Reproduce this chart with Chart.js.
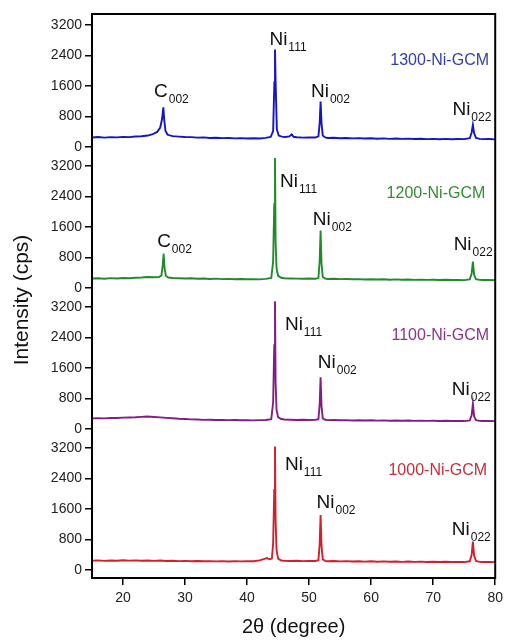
<!DOCTYPE html>
<html>
<head>
<meta charset="utf-8">
<script src="https://cdn.jsdelivr.net/npm/chart.js@4.4.0/dist/chart.umd.min.js"></script>
<style>
  body { margin: 0; background: #fff; }
  canvas { display: block; }
</style>
</head>
<body>
<canvas id="xrd" width="508" height="640"></canvas>
<script>
// XRD patterns, [2theta, cps]
const pattern1300 = [[15,250],[16,262],[17,246],[18,258],[19,252],[20,266],[21,258],[22,274],[23,282],[24,300],[24.8,335],[25.5,395],[26.0,510],[26.3,740],[26.5,1040],[26.65,700],[26.85,420],[27.2,320],[28,285],[29,272],[30,262],[31,258],[32,247],[33,252],[34,238],[35,244],[36,232],[37,236],[38,226],[39,232],[40,222],[41,228],[42,224],[43,238],[43.8,262],[44.2,420],[44.4,1700],[44.5,2560],[44.6,1700],[44.8,460],[45.1,300],[45.6,272],[46.2,262],[46.8,278],[47.2,330],[47.5,268],[48,256],[49,246],[50,252],[51,248],[51.5,280],[51.7,620],[51.85,1190],[52.0,620],[52.2,300],[52.6,252],[53,238],[54,242],[55,230],[56,236],[57,226],[58,232],[59,222],[60,228],[61,218],[62,226],[63,214],[64,222],[65,212],[66,220],[67,208],[68,216],[69,206],[70,214],[71,204],[72,212],[73,202],[74,210],[75,206],[75.9,230],[76.2,380],[76.4,580],[76.6,360],[76.9,240],[77.5,214],[78,206],[79,210],[80,200]];
const pattern1200 = [[15,248],[16,256],[17,244],[18,258],[19,250],[20,262],[21,256],[22,270],[23,276],[24,288],[25,282],[25.8,290],[26.2,330],[26.4,600],[26.55,900],[26.7,520],[26.9,320],[27.3,275],[28,262],[29,256],[30,250],[31,256],[32,244],[33,250],[34,238],[35,246],[36,234],[37,240],[38,230],[39,236],[40,228],[41,234],[42,226],[43,240],[43.9,262],[44.2,700],[44.38,2200],[44.5,3410],[44.6,1200],[44.75,520],[45.0,320],[45.5,268],[46,256],[47,250],[48,246],[49,242],[50,248],[51,242],[51.5,260],[51.7,700],[51.85,1510],[52.0,650],[52.2,290],[52.6,248],[53,236],[54,242],[55,232],[56,238],[57,228],[58,234],[59,224],[60,230],[61,222],[62,228],[63,218],[64,226],[65,216],[66,224],[67,214],[68,220],[69,212],[70,218],[71,210],[72,216],[73,208],[74,214],[75,206],[75.9,226],[76.2,380],[76.4,690],[76.6,340],[76.9,232],[77.5,214],[78,208],[79,214],[80,205]];
const pattern1100 = [[15,278],[16,284],[17,280],[18,290],[19,288],[20,298],[21,302],[22,308],[23,318],[23.8,326],[24.5,320],[25,314],[26,304],[27,292],[28,282],[29,270],[30,262],[31,252],[32,248],[33,240],[34,244],[35,236],[36,240],[37,232],[38,236],[39,228],[40,234],[41,226],[42,232],[43,238],[43.9,258],[44.2,700],[44.38,2200],[44.5,3350],[44.6,1200],[44.75,500],[45.0,310],[45.5,262],[46,250],[47,244],[48,238],[49,242],[50,236],[51,240],[51.5,258],[51.7,640],[51.85,1360],[52.0,600],[52.2,280],[52.6,242],[53,232],[54,238],[55,228],[56,234],[57,224],[58,230],[59,222],[60,228],[61,220],[62,226],[63,218],[64,224],[65,216],[66,222],[67,214],[68,220],[69,212],[70,218],[71,210],[72,216],[73,210],[74,214],[75,208],[75.9,226],[76.2,360],[76.4,660],[76.6,330],[76.9,230],[77.5,214],[78,210],[79,214],[80,206]];
const pattern1000 = [[15,246],[16,252],[17,240],[18,250],[19,244],[20,254],[21,246],[22,252],[23,244],[24,250],[25,240],[26,248],[27,238],[28,244],[29,234],[30,240],[31,230],[32,236],[33,228],[34,234],[35,226],[36,232],[37,224],[38,230],[39,226],[40,232],[41,230],[42,252],[42.8,290],[43.2,312],[43.6,280],[44.0,300],[44.2,700],[44.38,2100],[44.5,3240],[44.6,1300],[44.75,520],[45.0,300],[45.5,250],[46,240],[47,236],[48,242],[49,234],[50,240],[51,236],[51.5,256],[51.7,680],[51.85,1445],[52.0,640],[52.2,280],[52.6,240],[53,230],[54,236],[55,226],[56,232],[57,224],[58,230],[59,220],[60,228],[61,218],[62,226],[63,216],[64,224],[65,214],[66,222],[67,212],[68,220],[69,210],[70,218],[71,210],[72,216],[73,208],[74,214],[75,208],[75.9,228],[76.2,400],[76.4,745],[76.6,380],[76.9,236],[77.5,214],[78,208],[79,214],[80,206]];

const sampleNames = ['1300-Ni-GCM', '1200-Ni-GCM', '1100-Ni-GCM', '1000-Ni-GCM'];
const yTickValues = [0, 800, 1600, 2400, 3200];
const xTickValues = [20, 30, 40, 50, 60, 70, 80];

// peak labels: [axis, text, subscript, 2theta, cps]
const peakLabels = [
  ['y1300', 'C', '002', 25.0, 1310],
  ['y1300', 'Ni', '111', 43.6, 2680],
  ['y1300', 'Ni', '002', 50.3, 1310],
  ['y1300', 'Ni', '022', 73.1, 840],
  ['y1200', 'C', '002', 25.5, 1080],
  ['y1200', 'Ni', '111', 45.3, 2660],
  ['y1200', 'Ni', '002', 50.6, 1660],
  ['y1200', 'Ni', '022', 73.3, 1000],
  ['y1100', 'Ni', '111', 46.1, 2600],
  ['y1100', 'Ni', '002', 51.4, 1600],
  ['y1100', 'Ni', '022', 73.0, 890],
  ['y1000', 'Ni', '111', 46.1, 2620],
  ['y1000', 'Ni', '002', 51.2, 1630],
  ['y1000', 'Ni', '022', 73.0, 920],
];
// sample name position (right edge): [2theta, cps]
const namePos = [[79.0, 2150], [78.4, 2370], [79.0, 2340], [78.7, 2490]];

const lineColors = ['rgb(20,20,200)', 'rgb(30,140,40)', 'rgb(130,30,130)', 'rgb(210,30,45)'];
const nameColors = ['rgb(50,60,175)', 'rgb(50,140,50)', 'rgb(140,50,140)', 'rgb(200,45,55)'];
const axisIds = ['y1300', 'y1200', 'y1100', 'y1000'];
const patterns = [pattern1300, pattern1200, pattern1100, pattern1000];

const FONT = "'Liberation Sans', Arial, sans-serif";

const yAxis = (id) => ({
  type: 'linear',
  position: 'left',
  stack: 'panels',
  stackWeight: 1,
  min: -210,
  max: 3490,
  afterBuildTicks: (scale) => { scale.ticks = yTickValues.map(v => ({ value: v })); },
  afterFit: (scale) => { scale.width = 92; },
  grid: { drawOnChartArea: false, drawTicks: true, tickLength: 7, color: '#000', lineWidth: 1.5 },
  border: { display: true, color: '#000', width: 2 },
  ticks: {
    color: '#222', font: { family: FONT, size: 14 }, padding: 3, autoSkip: false,
    callback: (v) => String(v),
  },
});

const scales = {
  x: {
    type: 'linear',
    min: 15,
    max: 80,
    afterBuildTicks: (scale) => { scale.ticks = xTickValues.map(v => ({ value: v })); },
    afterFit: (scale) => { scale.height = 62; },
    grid: { drawOnChartArea: false, tickLength: 7, color: '#000', lineWidth: 1.5 },
    border: { display: true, color: '#000', width: 2 },
    ticks: { color: '#222', font: { family: FONT, size: 14 }, padding: 5, autoSkip: false, callback: (v) => String(v) },
    title: { display: true, text: '2θ (degree)', color: '#111', font: { family: FONT, size: 20 }, padding: { top: 0, bottom: 1 } },
  },
};
// stacked from bottom up
for (let i = axisIds.length - 1; i >= 0; i--) scales[axisIds[i]] = yAxis(axisIds[i]);

const frameAndLabels = {
  id: 'frameAndLabels',
  afterDraw(chart) {
    const ctx = chart.ctx;
    const a = chart.chartArea;
    const xs = chart.scales.x;
    ctx.save();
    ctx.strokeStyle = '#000';
    ctx.lineWidth = 2;
    ctx.strokeRect(a.left, a.top, a.right - a.left, a.bottom - a.top);

    ctx.fillStyle = '#111';
    ctx.textBaseline = 'alphabetic';
    ctx.textAlign = 'left';
    peakLabels.forEach(([axis, txt, sub, t, c]) => {
      const px = xs.getPixelForValue(t);
      const py = chart.scales[axis].getPixelForValue(c);
      ctx.font = '19px ' + FONT;
      ctx.fillText(txt, px, py);
      const w = ctx.measureText(txt).width;
      ctx.font = '12px ' + FONT;
      ctx.fillText(sub, px + w + 1, py + 6);
    });

    ctx.textAlign = 'right';
    ctx.font = '16px ' + FONT;
    sampleNames.forEach((name, i) => {
      ctx.fillStyle = nameColors[i];
      ctx.fillText(name, xs.getPixelForValue(namePos[i][0]), chart.scales[axisIds[i]].getPixelForValue(namePos[i][1]));
    });

    // y title
    ctx.fillStyle = '#111';
    ctx.font = '21px ' + FONT;
    ctx.textAlign = 'center';
    ctx.textBaseline = 'middle';
    ctx.translate(22, (a.top + a.bottom) / 2 + 4);
    ctx.rotate(-Math.PI / 2);
    ctx.fillText('Intensity (cps)', 0, 0);
    ctx.restore();
  }
};

new Chart(document.getElementById('xrd'), {
  type: 'line',
  data: {
    datasets: patterns.map((p, i) => ({
      label: sampleNames[i],
      data: p.map(([t, c]) => ({ x: t, y: c })),
      yAxisID: axisIds[i],
      borderColor: lineColors[i],
      borderWidth: 1.9,
      pointRadius: 0,
      tension: 0,
      fill: false,
    })),
  },
  options: {
    responsive: false,
    animation: false,
    layout: { padding: { top: 14, right: 10, left: 0, bottom: 0 } },
    plugins: { legend: { display: false }, tooltip: { enabled: false } },
    scales: scales,
  },
  plugins: [frameAndLabels],
});
</script>
</body>
</html>
